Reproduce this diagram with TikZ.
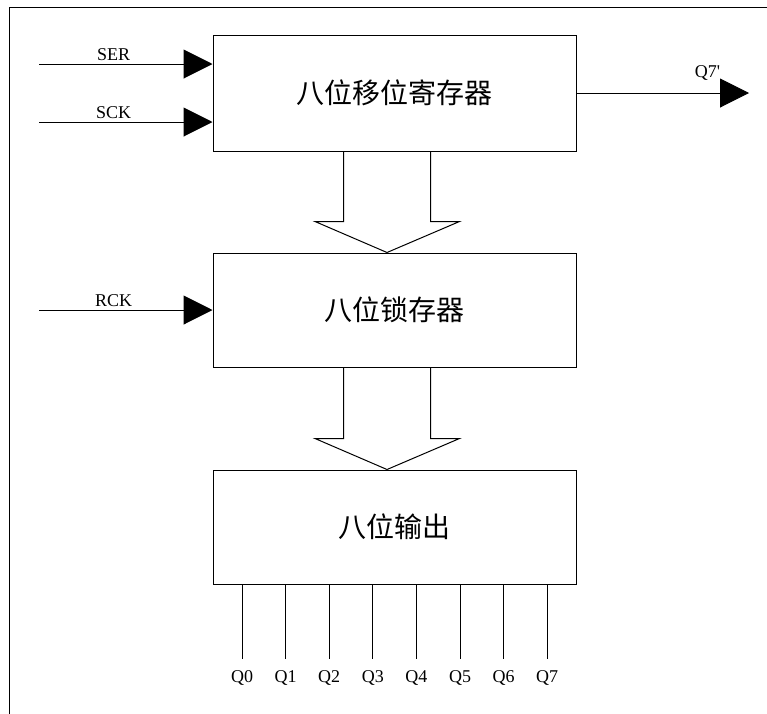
\documentclass[tikz,border=0pt]{standalone}
\usepackage{fontspec}
\setmainfont{Liberation Serif}
\newfontfamily\cjk{Noto Sans CJK SC}
\usetikzlibrary{arrows.meta,calc}

\tikzset{
  block/.style={draw, line width=1pt, minimum width=363pt, minimum height=114pt,
    inner sep=0pt, font=\cjk\fontsize{28}{28}\selectfont},
  sig/.style={line width=1pt, -{Triangle[length=29pt,width=29pt]}},
  lbl/.style={anchor=base, yshift=4pt, font=\fontsize{18}{18}\selectfont},
  pinlbl/.style={inner sep=0pt, font=\fontsize{18}{18}\selectfont},
}

% Широкая стрелка между блоками
\newcommand{\busarrow}[2]{%
  \path ($(#2.north)+(-7.5,0)$) coordinate (tip) ++(0,-31) coordinate (hb);
  \draw[line width=1pt] ($(#1.south)+(-51,0)$) coordinate (tl) -- (tl |- hb)
    -- ++(-28.5,0) -- (tip) -- ($(hb)+(72.5,0)$) -- ++(-29,0)
    -- ($(#1.south)+(36,0)$);}

\begin{document}
\begin{tikzpicture}[x=1pt,y=-1pt]
    % Рамка
    \clip (0,0) rectangle (767,713);
    \draw[line width=1pt] (9,7) rectangle (790,740);

    % Блоки
    \node[block, minimum height=116pt] (shiftreg) at (394.5,93) {八位移位寄存器};
    \node[block] (latch) at (394.5,310) {八位锁存器};
    \node[block] (outbuf) at (394.5,527) {八位输出};

    % Входы и выход
    \coordinate (ser) at (39,64);
    \coordinate (sck) at (39,122);
    \coordinate (rck) at (39,310);
    \coordinate (q7s) at (749,93);
    \draw[sig] (ser) -- (ser -| shiftreg.west) node[lbl, pos=.43] {SER};
    \draw[sig] (sck) -- (sck -| shiftreg.west) node[lbl, pos=.43] {SCK};
    \draw[sig] (rck) -- (rck -| latch.west) node[lbl, pos=.43] {RCK};
    \draw[sig] (shiftreg.east |- q7s) -- (q7s) node[lbl, pos=.76, yshift=12pt] {Q7\textquotesingle};

    % Шины
    \busarrow{shiftreg}{latch}
    \busarrow{latch}{outbuf}

    % Выводы Q0..Q7
    \foreach \i in {0,...,7}
    {
        \pgfmathsetmacro{\px}{242+43.6*\i}
        \node[pinlbl] (q\i) at (\px,678) {Q\i};
        \draw[line width=1pt] (q\i |- outbuf.south) -- ++(0,74);
    }
\end{tikzpicture}
\end{document}
